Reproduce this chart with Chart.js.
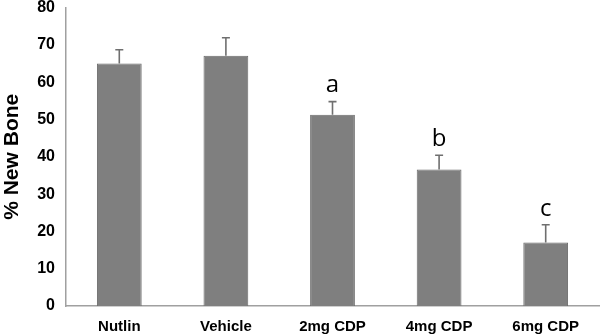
<!DOCTYPE html>
<html>
<head>
<meta charset="utf-8">
<script src="https://cdn.jsdelivr.net/npm/chart.js@4"></script>
<style>
  html, body { margin: 0; padding: 0; background: #fff; overflow: hidden; }
  #clip { width: 600px; height: 335px; overflow: hidden; position: relative; }
  #wrap { width: 600px; height: 341px; position: absolute; top: -6px; left: 0; }
</style>
</head>
<body>
<div id="clip"><div id="wrap"><canvas id="boneChart"></canvas></div></div>
<script>
// Values
const groups = ["Nutlin", "Vehicle", "2mg CDP", "4mg CDP", "6mg CDP"];
const newBone = [65.0, 67.1, 51.3, 36.6, 17.0];
const errUp = [3.7, 4.8, 3.5, 3.8, 4.8];
const sigLetters = ["", "", "a", "b", "c"];
const yTicks = [0, 10, 20, 30, 40, 50, 60, 70, 80];

const barGray = '#7f7f7f';
const axisGray = '#a0a0a0';

// Draws the one-sided error bars and the significance letters
const errorBarPlugin = {
    id: 'errorBars',
    afterDatasetsDraw(chart) {
        const ctx = chart.ctx;
        const x = chart.scales.x;
        const y = chart.scales.y;
        ctx.save();
        ctx.strokeStyle = '#6f6f6f';
        ctx.lineWidth = 1.6;
        groups.forEach((g, i) => {
            const cx = x.getPixelForValue(i);
            const yTop = y.getPixelForValue(newBone[i]);
            const yErr = y.getPixelForValue(newBone[i] + errUp[i]);
            ctx.beginPath();
            ctx.moveTo(cx, yTop);
            ctx.lineTo(cx, yErr);
            ctx.moveTo(cx - 4, yErr);
            ctx.lineTo(cx + 4, yErr);
            ctx.stroke();
            if (sigLetters[i]) {
                ctx.fillStyle = '#000';
                ctx.font = '24px "Open Sans", sans-serif';
                ctx.textAlign = 'center';
                ctx.textBaseline = 'bottom';
                ctx.fillText(sigLetters[i], cx, yErr - 4);
            }
        });
        ctx.restore();
    }
};

const ctx = document.getElementById('boneChart').getContext('2d');
new Chart(ctx, {
    type: 'bar',
    data: {
        labels: groups,
        datasets: [{
            data: newBone,
            backgroundColor: barGray,
            borderColor: '#6a6a6a',
            borderWidth: 1,
            barPercentage: 0.42,
            categoryPercentage: 1.0
        }]
    },
    options: {
        responsive: true,
        maintainAspectRatio: false,
        animation: false,
        layout: { padding: { top: 0, right: 1, bottom: 0, left: 0 } },
        plugins: {
            legend: { display: false },
            tooltip: { enabled: false }
        },
        scales: {
            x: {
                grid: { display: false, drawTicks: false },
                border: { color: axisGray, width: 1.5 },
                ticks: {
                    color: '#000',
                    padding: 12,
                    font: { family: '"Liberation Sans", Arial, sans-serif', size: 15, weight: 'bold' }
                },
                afterFit(scale) { scale.height = 29; }
            },
            y: {
                min: 0,
                max: 80,
                afterBuildTicks(scale) { scale.ticks = yTicks.map(v => ({ value: v })); },
                grid: { display: false, drawTicks: true, tickLength: 7, tickColor: axisGray },
                border: { color: axisGray, width: 1.5 },
                ticks: {
                    color: '#000',
                    padding: 4,
                    font: { family: '"Liberation Sans", Arial, sans-serif', size: 16, weight: 'bold' }
                },
                title: {
                    display: true,
                    text: '% New Bone',
                    color: '#000',
                    padding: { top: 0, bottom: 6 },
                    font: { family: '"Liberation Sans", Arial, sans-serif', size: 21, weight: 'bold' }
                },
                afterFit(scale) { scale.width = 66; }
            }
        }
    },
    plugins: [errorBarPlugin]
});
</script>
</body>
</html>
